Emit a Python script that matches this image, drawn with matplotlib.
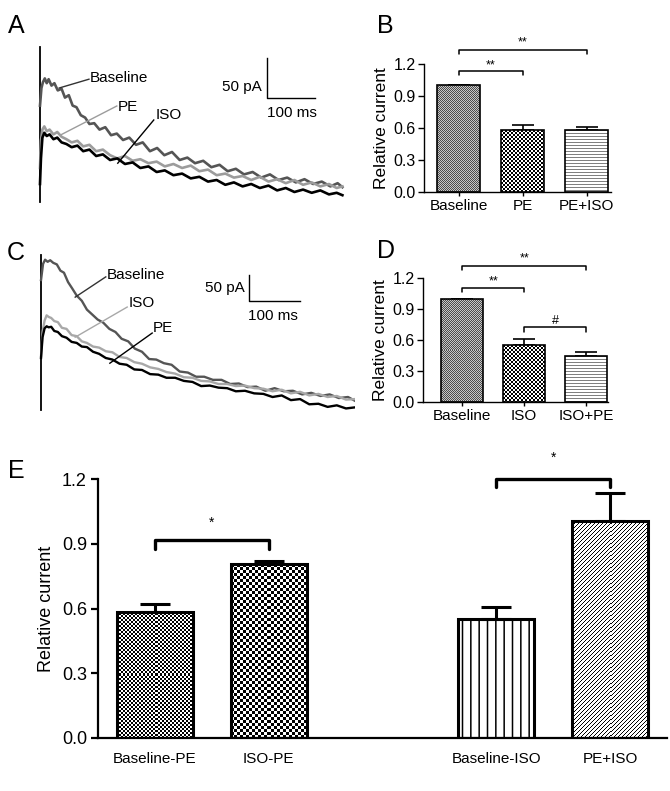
import numpy as np
import matplotlib
matplotlib.use("Agg")
import matplotlib.pyplot as plt

plt.rcParams['font.family'] = ['Liberation Sans', 'DejaVu Sans']
plt.rcParams['hatch.linewidth'] = 1.1

# ---- traces, panel A (time in ms, current in pA) ----
a_base_t = [0, 3, 6, 10, 14, 18, 24, 30, 37, 45, 52, 60, 68, 76, 85, 94, 103, 113, 124, 136,
            148, 160, 173, 186, 200, 214, 229, 244, 259, 275, 291, 307, 323, 340, 357, 374, 391,
            408, 425, 443, 461, 479, 497, 515, 533, 551, 569, 587, 605, 620, 630]
a_base_v = [118, 140, 147, 152, 146, 151, 143, 146, 137, 139, 128, 131, 118, 116, 106, 103, 95,
            96, 88, 91, 81, 83, 75, 78, 69, 72, 61, 65, 56, 60, 50, 53, 46, 49, 41, 44, 36, 39,
            32, 35, 28, 32, 25, 28, 22, 26, 20, 23, 17, 21, 16]
a_t = [0, 2, 5, 9, 14, 20, 28, 36, 45, 55, 66, 78, 90, 103, 117, 131, 146, 161, 177, 193, 209,
       226, 243, 260, 278, 296, 314, 332, 350, 368, 386, 404, 422, 440, 458, 476, 494, 512, 530,
       548, 566, 584, 602, 618, 630]
a_pe_v = [40, 74, 88, 92, 86, 88, 82, 85, 79, 76, 72, 74, 67, 69, 61, 63, 56, 52, 55, 49, 51,
          46, 48, 42, 45, 40, 43, 36, 38, 31, 33, 28, 30, 25, 29, 23, 26, 21, 25, 19, 22, 17, 20,
          15, 17]
a_iso_v = [20, 52, 78, 84, 80, 82, 76, 78, 72, 70, 66, 68, 61, 63, 55, 57, 50, 52, 45, 47, 40,
           42, 35, 37, 31, 33, 27, 29, 23, 25, 19, 22, 17, 20, 15, 18, 12, 15, 10, 13, 9, 12, 7,
           9, 6]

# ---- traces, panel C ----
c_base_t = [0, 4, 8, 13, 18, 24, 31, 38, 45, 53, 61, 70, 80, 90, 100, 111, 122, 134, 146, 158,
            171, 184, 198, 212, 226, 241, 256, 272, 288, 304, 320, 337, 354, 371, 388, 405, 422,
            440, 458, 476, 494, 512, 530, 548, 566, 584, 602, 615]
c_base_v = [250, 281, 289, 285, 288, 283, 280, 268, 264, 246, 234, 220, 210, 193, 184, 174, 168,
            156, 150, 137, 132, 118, 112, 98, 97, 90, 87, 74, 72, 64, 64, 58, 58, 50, 51, 44, 45,
            37, 42, 36, 37, 30, 33, 27, 30, 23, 25, 18]
c_t = [0, 3, 7, 11, 15, 20, 26, 33, 41, 50, 60, 70, 80, 90, 102, 114, 127, 140, 154, 168, 183,
       198, 214, 230, 246, 263, 280, 297, 314, 331, 348, 365, 382, 400, 418, 436, 454, 472, 490,
       508, 526, 544, 562, 580, 598, 615]
c_iso_v = [103, 150, 172, 182, 179, 177, 171, 169, 158, 156, 144, 142, 132, 129, 122, 120, 113,
           111, 102, 100, 92, 89, 82, 79, 73, 70, 63, 62, 56, 55, 50, 50, 46, 47, 42, 41, 36, 39,
           32, 35, 28, 31, 25, 27, 20, 21]
c_pe_v = [100, 140, 157, 161, 159, 160, 152, 150, 142, 139, 131, 129, 122, 121, 112, 108, 100,
          97, 89, 87, 78, 77, 69, 68, 62, 62, 56, 54, 46, 47, 43, 42, 36, 37, 32, 31, 25, 28, 19,
          21, 11, 12, 6, 9, 3, 5]

# ---- bar data ----
b_names = ['Baseline', 'PE', 'PE+ISO']
b_vals = [1.0, 0.58, 0.58]
b_errs = [0.0, 0.045, 0.03]
d_names = ['Baseline', 'ISO', 'ISO+PE']
d_vals = [1.0, 0.55, 0.445]
d_errs = [0.0, 0.06, 0.042]
e_names = ['Baseline-PE', 'ISO-PE', 'Baseline-ISO', 'PE+ISO']
e_pos = [0, 1, 3, 4]
e_vals = [0.584, 0.806, 0.551, 1.005]
e_errs = [0.036, 0.015, 0.056, 0.13]
yticks = [0.0, 0.3, 0.6, 0.9, 1.2]

W, H = 670, 791
fig = plt.figure(figsize=(W / 100, H / 100), dpi=100)


def px_axes(l, t, r, b):
    return fig.add_axes([l / W, 1 - b / H, (r - l) / W, (b - t) / H])


def pattern(kind, ny, nx):
    r, c = np.indices((ny, nx))
    if kind == 'fine':
        return np.where((r + c) % 2 == 0, 0.3, 0.78)
    if kind == 'check2':
        return ((r // 2 + c // 2) % 2).astype(float)
    if kind == 'check3':
        return ((r // 3 + c // 3) % 2).astype(float)
    if kind == 'hgrey':
        return np.where(r % 3 == 0, 0.5, 1.0)
    if kind == 'diag':
        return np.where((r + c) % 4 == 0, 0.0, 1.0)
    return np.ones((ny, nx))


def bar_panel(ax, pos, vals, errs, fills, names, xlim, lw, cap, spine_w, ytick_fs, xtick_fs):
    ax.set_xlim(*xlim)
    ax.set_ylim(0, 1.2)
    ax.errorbar(pos, vals, yerr=[[0] * len(vals), errs], fmt='none', ecolor='black',
                elinewidth=lw, capsize=cap, capthick=lw, zorder=1)
    bars = ax.bar(pos, vals, width=0.67, facecolor='none', edgecolor='black',
                  linewidth=lw, zorder=3)
    for bar, kind in zip(bars, fills):
        if kind == 'vline':
            bar.set_hatch('||')
            continue
        x0, y0 = bar.get_x(), 0
        x1, y1 = x0 + bar.get_width(), bar.get_height()
        p0, p1 = ax.transData.transform([(x0, y0), (x1, y1)])
        nx = max(1, int(round(abs(p1[0] - p0[0]))))
        ny = max(1, int(round(abs(p1[1] - p0[1]))))
        im = ax.imshow(pattern(kind, ny, nx), extent=[x0, x1, y0, y1], cmap='gray',
                       vmin=0, vmax=1, interpolation='nearest', aspect='auto', zorder=2)
        im.set_clip_path(bar)
    ax.set_xlim(*xlim)
    ax.set_ylim(0, 1.2)
    ax.set_yticks(yticks)
    ax.set_yticklabels(['%.1f' % v for v in yticks], fontsize=ytick_fs)
    ax.set_xticks(pos)
    ax.set_xticklabels(names, fontsize=xtick_fs)
    for s in ['top', 'right']:
        ax.spines[s].set_visible(False)
    for s in ['left', 'bottom']:
        ax.spines[s].set_linewidth(spine_w)


def bracket(ax, x0, x1, y, leg, lw, text, ty, fs):
    ax.plot([x0, x0, x1, x1], [y - leg, y, y, y - leg], color='black', lw=lw,
            clip_on=False, solid_capstyle='round', solid_joinstyle='round')
    ax.text((x0 + x1) / 2, ty, text, ha='center', va='baseline', fontsize=fs)


# ---- Panel A ----
axA = px_axes(35, 40, 350, 205)
axA.set_xlim(-10.4, 645.8)
axA.set_ylim(-6.25, 200)
axA.axis('off')
axA.plot([0, 0], [-2, 191], color='black', lw=1.3)
axA.plot(a_base_t, a_base_v, color='#555555', lw=1.9)
axA.plot(a_t, a_pe_v, color='#9c9c9c', lw=1.9)
axA.plot(a_t, a_iso_v, color='black', lw=1.9)
axA.text(104, 152.5, 'Baseline', fontsize=11, va='center')
axA.plot([102, 40], [151, 140], color='#333333', lw=1)
axA.text(162, 116, 'PE', fontsize=11, va='center')
axA.plot([160, 42], [117.5, 81], color='#9c9c9c', lw=1)
axA.text(240, 106, 'ISO', fontsize=11, va='center')
axA.plot([237, 162], [100, 46], color='black', lw=1)
axA.plot([473, 473, 573], [177.5, 127.5, 127.5], color='black', lw=1)
axA.text(462, 141, '50 pA', fontsize=11, ha='right', va='center')
axA.text(473, 109, '100 ms', fontsize=11, ha='left', va='center')

# ---- Panel C ----
axC = px_axes(35, 245, 355, 415)
axC.set_xlim(-11.8, 615.7)
axC.set_ylim(-9.6, 317.3)
axC.axis('off')
axC.plot([0, 0], [0, 298], color='black', lw=1.3)
axC.plot(c_base_t, c_base_v, color='#555555', lw=1.7)
axC.plot(c_t, c_iso_v, color='#a8a8a8', lw=1.7)
axC.plot(c_t, c_pe_v, color='black', lw=1.7)
axC.text(129, 260, 'Baseline', fontsize=11, va='center')
axC.plot([127, 67], [256, 217], color='#333333', lw=1)
axC.text(171, 206, 'ISO', fontsize=11, va='center')
axC.plot([169, 67], [198, 140], color='#a8a8a8', lw=1)
axC.text(220, 158, 'PE', fontsize=11, va='center')
axC.plot([218, 135], [148, 90], color='black', lw=1)
axC.plot([408, 408, 508], [260, 210, 210], color='black', lw=1)
axC.text(400, 235, '50 pA', fontsize=11, ha='right', va='center')
axC.text(406, 181, '100 ms', fontsize=11, ha='left', va='center')

# ---- Panel B ----
axB = px_axes(424, 64, 611, 192)
bar_panel(axB, [0, 1, 2], b_vals, b_errs, ['fine', 'check2', 'hgrey'], b_names,
          (-0.54, 2.38), 1.2, 8, 1.0, 11.5, 11)
axB.set_ylabel('Relative current', fontsize=12.5, labelpad=3)
axB.tick_params(axis='y', length=4, width=1, pad=2)
axB.tick_params(axis='x', length=3, width=1, pad=2)
bracket(axB, 0, 1, 1.134, 0.037, 1.1, '**', 1.16, 9)
bracket(axB, 0, 2, 1.33, 0.04, 1.1, '**', 1.37, 9)

# ---- Panel D ----
axD = px_axes(423, 278, 608, 402)
bar_panel(axD, [0, 1, 2], d_vals, d_errs, ['fine', 'check2', 'hgrey'], d_names,
          (-0.63, 2.35), 1.2, 8, 1.0, 11.5, 11)
axD.set_ylabel('Relative current', fontsize=12.5, labelpad=3)
axD.tick_params(axis='y', length=4, width=1, pad=2)
axD.tick_params(axis='x', length=3, width=1, pad=2)
bracket(axD, 0, 1, 1.10, 0.035, 1.1, '**', 1.14, 9)
bracket(axD, 0, 2, 1.32, 0.04, 1.1, '**', 1.365, 9)
bracket(axD, 1, 2, 0.726, 0.045, 1.1, '#', 0.755, 9)

# ---- Panel E ----
axE = px_axes(98, 479, 667, 738)
bar_panel(axE, e_pos, e_vals, e_errs, ['check2', 'check3', 'vline', 'diag'], e_names,
          (-0.5, 4.5), 2.2, 11, 1.6, 13, 11)
axE.set_ylabel('Relative current', fontsize=13, labelpad=5)
axE.tick_params(axis='y', length=5, width=1.6, pad=3)
axE.tick_params(axis='x', length=0, pad=10)
bracket(axE, 0, 1, 0.917, 0.042, 2.4, '*', 0.978, 10)
bracket(axE, 3, 4, 1.2, 0.035, 2.4, '*', 1.279, 10)

# panel letters
for letter, x, y in [('A', 8, 33), ('B', 377, 33), ('C', 7, 260), ('D', 377, 258), ('E', 8, 478)]:
    fig.text(x / W, 1 - y / H, letter, fontsize=18, va='baseline', ha='left')

fig.savefig('out.png', dpi=100)
